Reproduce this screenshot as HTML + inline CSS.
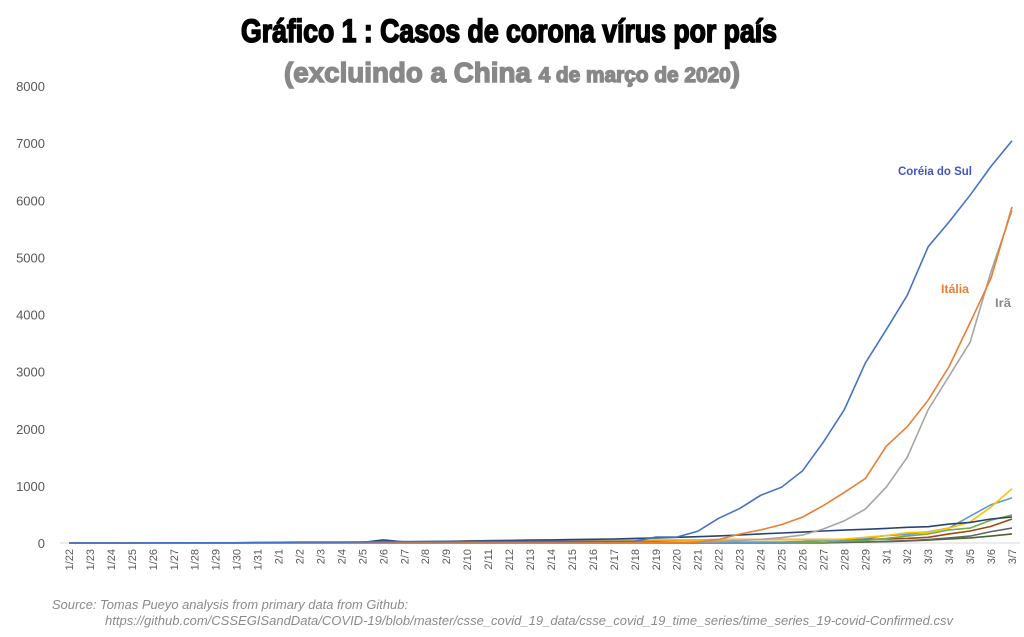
<!DOCTYPE html>
<html><head><meta charset="utf-8"><style>
html,body{margin:0;padding:0;background:#fff;}
svg{display:block;font-family:"Liberation Sans",sans-serif;}
</style></head><body>
<svg id="chart" width="1024" height="637" viewBox="0 0 1024 637">
<text x="509" y="42" text-anchor="middle" font-size="32" font-weight="bold" fill="#000" stroke="#000" stroke-width="1.6" textLength="536" lengthAdjust="spacingAndGlyphs">Gráfico 1 : Casos de corona vírus por país</text>
<text x="512" y="82" text-anchor="middle" font-size="28" font-weight="bold" fill="#888" stroke="#888" stroke-width="1.4" textLength="456" lengthAdjust="spacingAndGlyphs">(excluindo a China <tspan font-size="21">4 de março de 2020</tspan>)</text>
<g id="grid"></g>
<g id="series"></g>
<g id="labels"></g>
<text x="52" y="609" font-size="13" font-style="italic" fill="#8a8a8a" textLength="356" lengthAdjust="spacingAndGlyphs">Source: Tomas Pueyo analysis from primary data from Github:</text>
<text x="105" y="625" font-size="13" font-style="italic" fill="#8a8a8a" textLength="848" lengthAdjust="spacingAndGlyphs">https://github.com/CSSEGISandData/COVID-19/blob/master/csse_covid_19_data/csse_covid_19_time_series/time_series_19-covid-Confirmed.csv</text>
</svg>
<script>
const categories=["1/22","1/23","1/24","1/25","1/26","1/27","1/28","1/29","1/30","1/31","2/1","2/2","2/3","2/4","2/5","2/6","2/7","2/8","2/9","2/10","2/11","2/12","2/13","2/14","2/15","2/16","2/17","2/18","2/19","2/20","2/21","2/22","2/23","2/24","2/25","2/26","2/27","2/28","2/29","3/1","3/2","3/3","3/4","3/5","3/6","3/7"];
const yTicks=[0,1000,2000,3000,4000,5000,6000,7000,8000];
const korea=[1,1,2,2,3,4,4,4,4,11,12,15,15,16,19,23,24,24,25,27,28,28,28,28,28,29,30,31,104,104,204,433,602,833,977,1261,1766,2337,3150,3736,4335,5186,5621,6088,6593,7041];
const italy=[0,0,0,0,0,0,0,0,0,2,2,2,2,2,2,2,3,3,3,3,3,3,3,3,3,3,3,3,3,3,20,62,155,229,322,453,655,888,1128,1694,2036,2502,3089,3858,4636,5883];
const iran=[0,0,0,0,0,0,0,0,0,0,0,0,0,0,0,0,0,0,0,0,0,0,0,0,0,0,0,0,2,5,18,28,43,61,95,139,245,388,593,978,1501,2336,2922,3513,4747,5823];
const navy=[0,0,0,0,0,0,0,0,0,0,0,0,0,0,10,55,20,25,30,35,40,45,50,55,60,65,70,80,90,100,110,125,140,160,175,190,210,225,240,255,275,285,330,360,420,455];
const yellow=[0,0,2,3,3,3,4,5,5,5,6,6,6,6,6,6,6,11,11,40,40,45,45,50,50,50,55,55,55,55,55,55,60,60,60,60,60,70,100,130,180,190,260,370,630,950];
const lightblue=[0,0,0,0,0,1,4,4,4,5,8,10,12,12,12,12,13,13,14,14,16,16,16,16,16,16,16,16,16,16,16,16,16,16,18,26,48,60,79,130,150,196,262,470,670,790];
const green=[0,0,0,0,0,0,0,0,0,0,1,1,1,1,1,1,1,1,2,2,2,2,2,2,2,2,2,2,2,2,2,2,2,2,6,13,15,32,45,80,120,160,230,260,400,490];
const brown=[0,0,0,0,0,0,0,0,0,0,0,0,0,0,0,0,0,0,0,0,0,0,0,0,0,0,0,30,40,50,55,60,60,60,60,60,60,60,65,70,80,100,160,210,290,420];
const darkgray=[0,0,0,0,0,0,0,0,0,0,0,0,0,0,0,0,0,0,0,0,0,0,0,0,0,0,0,0,0,0,0,0,0,0,0,0,0,10,20,30,40,60,90,120,200,260];
const teal=[0,0,0,0,0,0,0,0,0,0,0,0,0,0,0,0,0,0,0,0,0,0,0,0,0,0,0,0,0,0,0,0,0,0,2,5,8,12,18,25,35,50,70,90,120,160];
const seriesList=[
 {name:"korea",values:korea,color:"#4472C4"},
 {name:"italy",values:italy,color:"#ED7D31"},
 {name:"iran",values:iran,color:"#A5A5A5"},
 {name:"navy",values:navy,color:"#264478"},
 {name:"yellow",values:yellow,color:"#FFC000"},
 {name:"lightblue",values:lightblue,color:"#5B9BD5"},
 {name:"green",values:green,color:"#70AD47"},
 {name:"brown",values:brown,color:"#9E480E"},
 {name:"darkgray",values:darkgray,color:"#636363"},
 {name:"teal",values:teal,color:"#43682B"}
];
const NS="http://www.w3.org/2000/svg";
const x0=69,x1=1012,yBase=543,yTop=86,yMax=8000;
function xS(i){return x0+(x1-x0)*i/(categories.length-1);}
function yS(v){return yBase-(yBase-yTop)*v/yMax;}
const grid=document.getElementById('grid');
const axis=document.createElementNS(NS,'line');
axis.setAttribute('x1',60);axis.setAttribute('x2',1020);axis.setAttribute('y1',yBase);axis.setAttribute('y2',yBase);
axis.setAttribute('stroke','#d9d9d9');


grid.appendChild(axis);
yTicks.forEach(t=>{
 const tx=document.createElementNS(NS,'text');
 tx.setAttribute('x',45);tx.setAttribute('y',yS(t)+5);tx.setAttribute('text-anchor','end');
 tx.setAttribute('font-size','13');tx.setAttribute('fill','#595959');
 tx.textContent=t;
 
 
 grid.appendChild(tx);
});
categories.forEach((c,i)=>{
 const tx=document.createElementNS(NS,'text');
 const x=xS(i)+4,y=549;
 tx.setAttribute('transform','translate('+x+','+y+') rotate(-90)');
 tx.setAttribute('text-anchor','end');tx.setAttribute('font-size','11');tx.setAttribute('fill','#595959');
 tx.textContent=c;
 
 
 grid.appendChild(tx);
});
const sg=document.getElementById('series');
seriesList.slice().reverse().forEach(s=>{
 const p=document.createElementNS(NS,'polyline');
 p.setAttribute('points',s.values.map((v,i)=>xS(i).toFixed(1)+','+yS(v).toFixed(1)).join(' '));
 p.setAttribute('fill','none');p.setAttribute('stroke',s.color);p.setAttribute('stroke-width','1.6');
 
 
 sg.appendChild(p);
});
const lg=document.getElementById('labels');
[["Coréia do Sul",898,175,"#4355C4",74],["Itália",941,293,"#ED7D31",28],["Irã",995,307,"#8a8a8a",16]].forEach(l=>{
 const tx=document.createElementNS(NS,'text');
 tx.setAttribute('x',l[1]);tx.setAttribute('y',l[2]);tx.setAttribute('font-size','12');tx.setAttribute('font-weight','bold');
 tx.setAttribute('fill',l[3]);tx.setAttribute('textLength',l[4]);tx.setAttribute('lengthAdjust','spacingAndGlyphs');
 tx.textContent=l[0];
 
 
 lg.appendChild(tx);
});
</script>
</body></html>
